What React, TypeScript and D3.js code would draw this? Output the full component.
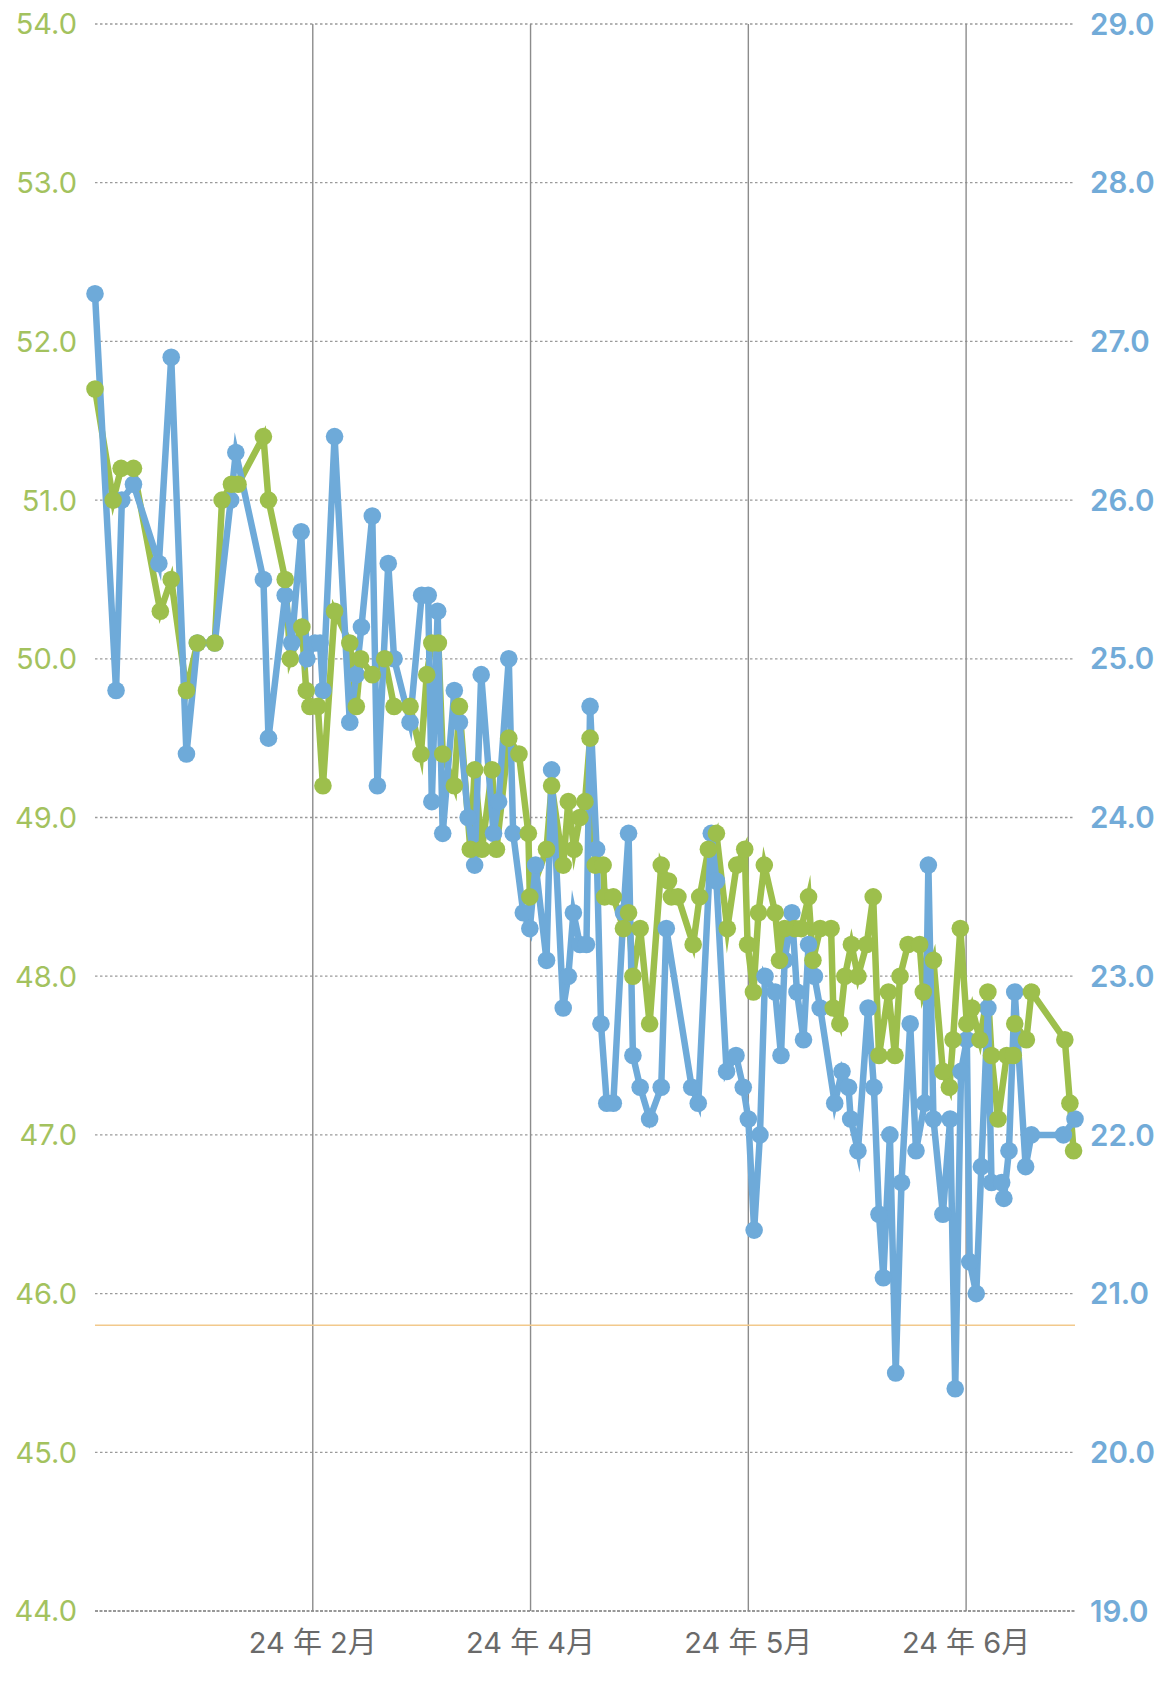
import React from 'react'
import * as d3 from 'd3'

// weight (left axis) – [day, kg]
const weightSeries: [number, number][] = [
  [0, 51.7], [2.5, 51.0], [3.6, 51.2], [5.3, 51.2], [9.0, 50.3], [10.5, 50.5], [12.6, 49.8],
  [14.1, 50.1], [16.5, 50.1], [17.5, 51.0], [18.8, 51.1], [19.7, 51.1], [23.2, 51.4], [23.9, 51.0],
  [26.2, 50.5], [26.9, 50.0], [28.5, 50.2], [29.1, 49.8], [29.6, 49.7], [30.7, 49.7], [31.4, 49.2],
  [33.0, 50.3], [35.1, 50.1], [36.0, 49.7], [36.6, 50.0], [38.2, 49.9], [39.9, 50.0], [41.2, 49.7],
  [43.4, 49.7], [44.9, 49.4], [45.7, 49.9], [46.4, 50.1], [47.3, 50.1], [47.9, 49.4], [49.5, 49.2],
  [50.2, 49.7], [51.7, 48.8], [52.3, 49.3], [53.3, 48.8], [54.7, 49.3], [55.3, 48.8], [57.0, 49.5],
  [58.4, 49.4], [59.7, 48.9], [59.9, 48.5], [62.2, 48.8], [62.9, 49.2], [64.5, 48.7], [65.2, 49.1],
  [66.0, 48.8], [66.8, 49.0], [67.5, 49.1], [68.2, 49.5], [68.9, 48.7], [70.0, 48.7], [70.2, 48.5],
  [71.4, 48.5], [72.8, 48.3], [73.5, 48.4], [74.1, 48.0], [75.1, 48.3], [76.4, 47.7], [78.0, 48.7],
  [79.0, 48.6], [79.4, 48.5], [80.3, 48.5], [82.4, 48.2], [83.3, 48.5], [84.5, 48.8], [85.6, 48.9],
  [87.1, 48.3], [88.4, 48.7], [89.5, 48.8], [89.9, 48.2], [90.7, 47.9], [91.4, 48.4], [92.2, 48.7],
  [93.7, 48.4], [94.3, 48.1], [95.0, 48.3], [96.4, 48.3], [97.3, 48.3], [98.3, 48.5], [98.9, 48.1],
  [99.9, 48.3], [101.4, 48.3], [101.7, 47.8], [102.6, 47.7], [103.3, 48.0], [104.2, 48.2], [105.1, 48.0],
  [106.3, 48.2], [107.2, 48.5], [108.0, 47.5], [109.3, 47.9], [110.2, 47.5], [110.9, 48.0], [112.0, 48.2],
  [113.6, 48.2], [114.1, 47.9], [115.5, 48.1], [116.8, 47.4], [117.7, 47.3], [118.2, 47.6], [119.2, 48.3],
  [120.1, 47.7], [120.8, 47.8], [121.9, 47.6], [123.0, 47.9], [123.5, 47.5], [124.4, 47.1], [125.6, 47.5],
  [126.5, 47.5], [126.7, 47.7], [128.3, 47.6], [129.0, 47.9], [133.6, 47.6], [134.3, 47.2], [134.8, 46.9],
]

// second series (right axis) – [day, value]
const rightSeries: [number, number][] = [
  [0, 27.3], [2.9, 24.8], [3.7, 26.0], [5.3, 26.1], [8.8, 25.6], [10.5, 26.9], [12.6, 24.4],
  [14.1, 25.1], [16.5, 25.1], [18.7, 26.0], [19.4, 26.3], [23.2, 25.5], [23.9, 24.5], [26.2, 25.4],
  [27.1, 25.1], [28.4, 25.8], [29.2, 25.0], [30.3, 25.1], [31.0, 25.1], [31.4, 24.8], [33.0, 26.4],
  [35.1, 24.6], [36.0, 24.9], [36.7, 25.2], [38.2, 25.9], [38.9, 24.2], [40.4, 25.6], [41.2, 25.0],
  [43.4, 24.6], [45.0, 25.4], [45.9, 25.4], [46.4, 24.1], [47.2, 25.3], [47.9, 23.9], [49.5, 24.8],
  [50.2, 24.6], [51.4, 24.0], [52.3, 23.7], [53.2, 24.9], [54.9, 23.9], [55.6, 24.1], [57.0, 25.0],
  [57.6, 23.9], [59.0, 23.4], [59.9, 23.3], [60.7, 23.7], [62.2, 23.1], [62.9, 24.3], [64.5, 22.8],
  [65.2, 23.0], [65.9, 23.4], [66.8, 23.2], [67.7, 23.2], [68.2, 24.7], [69.1, 23.8], [69.7, 22.7],
  [70.5, 22.2], [71.4, 22.2], [72.8, 23.4], [73.5, 23.9], [74.1, 22.5], [75.1, 22.3], [76.4, 22.1],
  [78.0, 22.3], [78.7, 23.3], [82.2, 22.3], [83.1, 22.2], [84.9, 23.9], [85.6, 23.6], [87.0, 22.4],
  [88.3, 22.5], [89.3, 22.3], [90.0, 22.1], [90.8, 21.4], [91.6, 22.0], [92.3, 23.0], [93.7, 22.9],
  [94.5, 22.5], [95.0, 23.1], [96.0, 23.4], [96.7, 22.9], [97.6, 22.6], [98.3, 23.2], [99.1, 23.0],
  [99.9, 22.8], [101.9, 22.2], [102.9, 22.4], [103.8, 22.3], [104.1, 22.1], [105.1, 21.9], [106.5, 22.8],
  [107.3, 22.3], [108.0, 21.5], [108.6, 21.1], [109.5, 22.0], [110.3, 20.5], [111.1, 21.7], [112.3, 22.7],
  [113.1, 21.9], [114.3, 22.2], [114.8, 23.7], [115.5, 22.1], [116.8, 21.5], [117.8, 22.1], [118.5, 20.4],
  [119.3, 22.4], [120.1, 22.6], [120.5, 21.2], [121.4, 21.0], [122.1, 21.8], [123.0, 22.8], [123.5, 21.7],
  [124.9, 21.7], [125.2, 21.6], [125.9, 21.9], [126.7, 22.9], [128.2, 21.8], [129.0, 22.0], [133.4, 22.0],
  [135.0, 22.1],
]

const leftTicks = [44, 45, 46, 47, 48, 49, 50, 51, 52, 53, 54]
const rightTicks = [19, 20, 21, 22, 23, 24, 25, 26, 27, 28, 29]
const monthTicks = [30, 60, 90, 120]
const monthLabels = ['24 年 2月', '24 年 4月', '24 年 5月', '24 年 6月']
const targetWeight = 45.8

const GREEN = '#9dbf4c'
const BLUE = '#6eaad9'

export default function App() {
  const width = 1169
  const height = 1682
  const left = 95
  const right = 1075
  const top = 24
  const bottom = 1611

  const x = d3.scaleLinear().domain([0, 135]).range([left, right])
  const yL = d3.scaleLinear().domain([44, 54]).range([bottom, top])
  const yR = d3.scaleLinear().domain([19, 29]).range([bottom, top])

  const lineL = d3.line<[number, number]>().x(d => x(d[0])).y(d => yL(d[1]))
  const lineR = d3.line<[number, number]>().x(d => x(d[0])).y(d => yR(d[1]))

  const numFont = 'Inter, "Noto Sans", sans-serif'

  return (
    <div style={{ position: 'absolute', left: 0, top: 0, background: '#fff' }}>
      <svg width={width} height={height} style={{ display: 'block' }}>
        <rect width={width} height={height} fill="#fff" />

        {/* horizontal grid */}
        {leftTicks.slice(1).map(t => (
          <line key={t} x1={left} x2={right} y1={yL(t)} y2={yL(t)}
            stroke="#9a9a9a" strokeWidth={1.3} strokeDasharray="2.5,2.5" />
        ))}
        <line x1={left} x2={right} y1={yL(44)} y2={yL(44)}
          stroke="#777" strokeWidth={1.5} strokeDasharray="3,1.5" />

        {/* month lines */}
        {monthTicks.map(t => (
          <line key={t} x1={x(t)} x2={x(t)} y1={top} y2={bottom}
            stroke="#8c8c8c" strokeWidth={1.4} />
        ))}

        {/* target line */}
        <line x1={left} x2={right} y1={yL(targetWeight)} y2={yL(targetWeight)}
          stroke="#f2c98c" strokeWidth={1.5} />

        {/* series lines */}
        <path d={lineL(weightSeries) ?? ''} fill="none" stroke={GREEN} strokeWidth={6.5}
          strokeLinejoin="miter" strokeMiterlimit={8} />
        <path d={lineR(rightSeries) ?? ''} fill="none" stroke={BLUE} strokeWidth={6.5}
          strokeLinejoin="miter" strokeMiterlimit={8} />
        {rightSeries.map((d, i) => (
          <circle key={'b' + i} cx={x(d[0])} cy={yR(d[1])} r={8.8} fill={BLUE} />
        ))}
        {weightSeries.map((d, i) => (
          <circle key={'g' + i} cx={x(d[0])} cy={yL(d[1])} r={8.8} fill={GREEN} />
        ))}

        {/* left axis labels */}
        {leftTicks.map(t => (
          <text key={t} x={77} y={yL(t)} dy="0.36em" textAnchor="end"
            fontFamily={numFont} fontSize={29} fill="#a3c25e">{t.toFixed(1)}</text>
        ))}
        {/* right axis labels */}
        {rightTicks.map(t => (
          <text key={t} x={1090} y={yR(t)} dy="0.36em" textAnchor="start"
            fontFamily={numFont} fontSize={29.5} fontWeight={600} fill="#72abd8">{t.toFixed(1)}</text>
        ))}
        {/* month labels */}
        {monthTicks.map((t, i) => (
          <text key={t} x={x(t)} y={1653} textAnchor="middle"
            fontFamily='Inter, "Noto Sans CJK JP", sans-serif' fontSize={29} fill="#6a6a6a">
            {monthLabels[i]}
          </text>
        ))}
      </svg>
    </div>
  )
}
